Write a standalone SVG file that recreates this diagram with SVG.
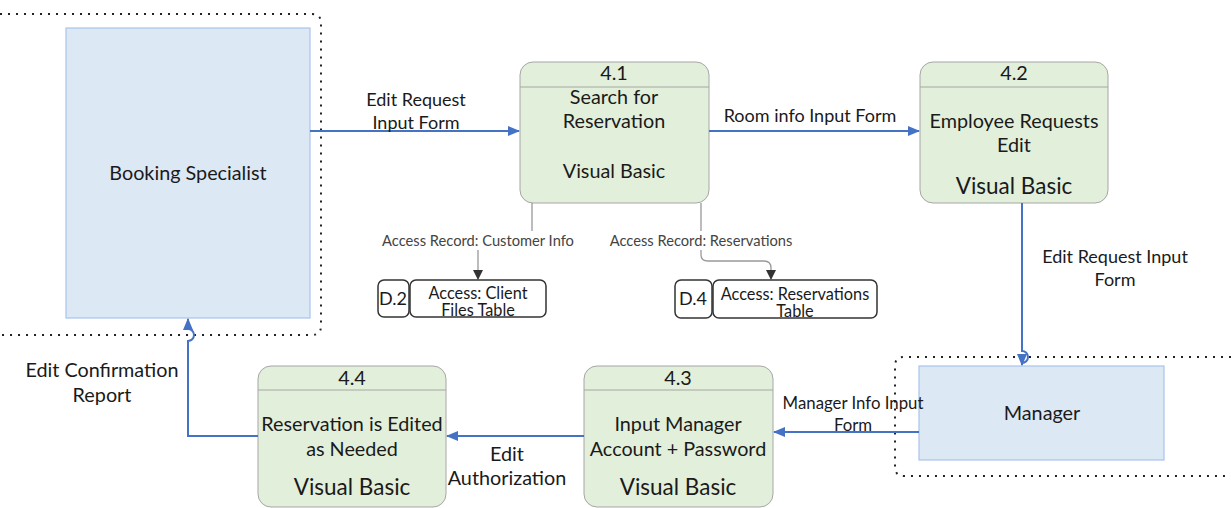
<svg xmlns="http://www.w3.org/2000/svg" width="1231" height="508" viewBox="0 0 1231 508">
<defs>
<marker id="ab" markerWidth="12" markerHeight="10" refX="11" refY="5" orient="auto" markerUnits="userSpaceOnUse"><path d="M0,0 L12,5 L0,10 Z" fill="#4472c4"/></marker>
<marker id="ak" markerWidth="10" markerHeight="12" refX="9" refY="6" orient="auto" markerUnits="userSpaceOnUse"><path d="M0,1 L10,6 L0,11 Z" fill="#333"/></marker>
<style>
text{font-family:Lato,"Open Sans","Liberation Sans",sans-serif;fill:#1a1a1a;text-anchor:middle;dominant-baseline:central}
.proc{fill:#e2efda;stroke:#a6a6a6;stroke-width:1}
.ext{fill:#dde8f5;stroke:#a9c4eb;stroke-width:1.2}
.dot{fill:none;stroke:#222;stroke-width:2;stroke-dasharray:2,6}
.flow{fill:none;stroke:#4472c4;stroke-width:2}
.ds{fill:none;stroke:#999;stroke-width:1.3}
.store{fill:#fff;stroke:#333;stroke-width:1.5}
.t20{font-size:19.8px}
.t22{font-size:22.5px}
.t18{font-size:18px}
.t17{font-size:16.8px}
.t16{font-size:16.3px}
.t14{font-size:14.7px;fill:#444}
</style>
</defs>

<g id="booking-boundary">
<path class="dot" d="M0,14 H312 Q321,14 321,23 V326 Q321,335 312,335 H0"/>
</g>
<g id="booking-specialist">
<rect class="ext" x="66" y="28" width="244" height="290"/>
<text class="t20" x="188" y="172">Booking Specialist</text>
</g>

<g id="manager-boundary">
<path class="dot" d="M1231,357 H904 Q895,357 895,366 V467 Q895,476 904,476 H1231"/>
</g>
<g id="manager">
<rect class="ext" x="919" y="366" width="245" height="94"/>
<text class="t20" x="1042" y="412">Manager</text>
</g>

<g id="p41">
<rect class="proc" x="520" y="62" width="189" height="141" rx="13"/>
<line x1="520" y1="87" x2="709" y2="87" stroke="#a6a6a6"/>
<text class="t20" x="614" y="72">4.1</text>
<text class="t20" x="614" y="96">Search for</text>
<text class="t20" x="614" y="120">Reservation</text>
<text class="t20" x="614" y="170">Visual Basic</text>
</g>

<g id="p42">
<rect class="proc" x="920" y="62" width="188" height="141" rx="13"/>
<line x1="920" y1="87" x2="1108" y2="87" stroke="#a6a6a6"/>
<text class="t20" x="1014" y="72">4.2</text>
<text class="t20" x="1014" y="120">Employee Requests</text>
<text class="t20" x="1014" y="144">Edit</text>
<text class="t22" x="1014" y="185">Visual Basic</text>
</g>

<g id="p43">
<rect class="proc" x="584" y="366" width="189" height="141" rx="13"/>
<line x1="584" y1="390" x2="773" y2="390" stroke="#a6a6a6"/>
<text class="t20" x="678" y="377">4.3</text>
<text class="t20" x="678" y="423">Input Manager</text>
<text class="t20" x="678" y="448">Account + Password</text>
<text class="t22" x="678" y="486">Visual Basic</text>
</g>

<g id="p44">
<rect class="proc" x="258" y="366" width="188" height="141" rx="13"/>
<line x1="258" y1="390" x2="446" y2="390" stroke="#a6a6a6"/>
<text class="t20" x="352" y="377">4.4</text>
<text class="t20" x="352" y="423">Reservation is Edited</text>
<text class="t20" x="352" y="448">as Needed</text>
<text class="t22" x="352" y="486">Visual Basic</text>
</g>

<g id="d2">
<rect class="store" x="378" y="280" width="31" height="37" rx="6"/>
<rect class="store" x="410" y="280" width="136" height="37" rx="6"/>
<text class="t18" x="393" y="298">D.2</text>
<text class="t16" x="478" y="292">Access: Client</text>
<text class="t16" x="478" y="309">Files Table</text>
</g>

<g id="d4">
<rect class="store" x="675" y="280" width="37" height="38" rx="6"/>
<rect class="store" x="713" y="280" width="164" height="38" rx="6"/>
<text class="t18" x="693" y="298">D.4</text>
<text class="t16" x="795" y="293">Access: Reservations</text>
<text class="t16" x="795" y="310">Table</text>
</g>

<g id="connectors">
<path class="flow" d="M310,131 H519" marker-end="url(#ab)"/>
<path class="flow" d="M709,131 H919" marker-end="url(#ab)"/>
<path class="flow" d="M1022,203 V351 A6,6 0 0 1 1022,363 V365" marker-end="url(#ab)"/>
<path class="flow" d="M919,432 H774" marker-end="url(#ab)"/>
<path class="flow" d="M584,436 H447" marker-end="url(#ab)"/>
<path class="flow" d="M258,436 H188 V341 A6,6 0 0 0 188,329 V319" marker-end="url(#ab)"/>
<path class="ds" d="M532,203 V240 H478 V279" marker-end="url(#ak)"/>
<path class="ds" d="M701,203 V255 Q701,261 708,261 H764 Q771,261 771,268 V279" marker-end="url(#ak)"/>
<rect x="378" y="231" width="200" height="19" fill="#fff"/>
<text class="t14" x="478" y="240">Access Record: Customer Info</text>
<rect x="604" y="231" width="194" height="19" fill="#fff"/>
<text class="t14" x="701" y="240">Access Record: Reservations</text>
<text class="t18" x="416" y="99">Edit Request</text>
<text class="t18" x="416" y="122">Input Form</text>
<text class="t18" x="810" y="115">Room info Input Form</text>
<text class="t18" x="1115" y="256">Edit Request Input</text>
<text class="t18" x="1115" y="279">Form</text>
<text class="t17" x="853" y="402">Manager Info Input</text>
<text class="t17" x="853" y="424">Form</text>
<text class="t20" x="507" y="453">Edit</text>
<text class="t20" x="507" y="477">Authorization</text>
<text class="t20" x="102" y="369">Edit Confirmation</text>
<text class="t20" x="102" y="394">Report</text>
</g>
</svg>
